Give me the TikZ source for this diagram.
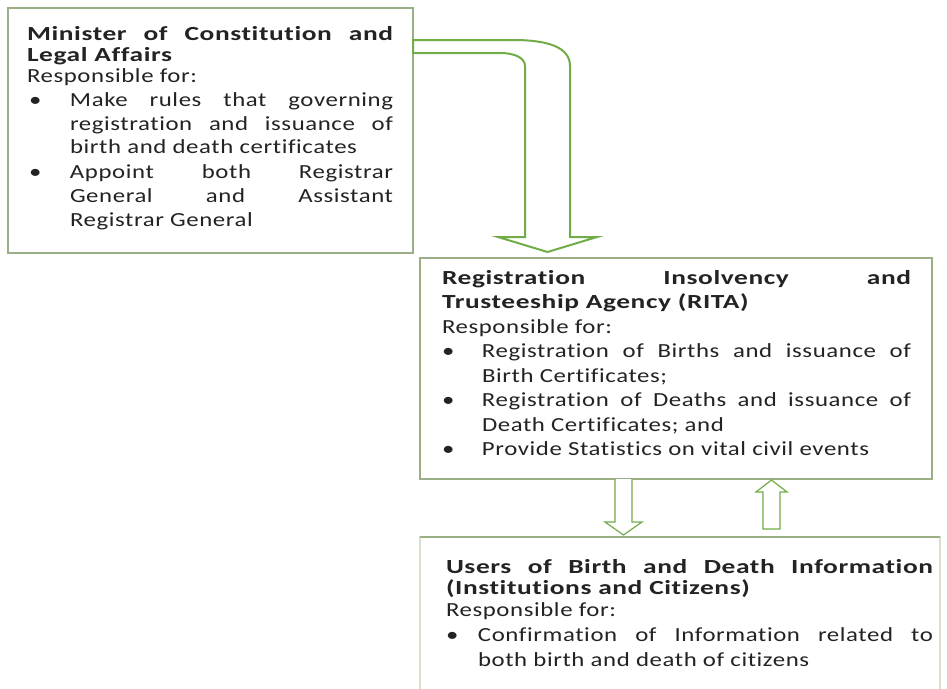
\documentclass[tikz,border=0pt]{standalone}
\usepackage{fontspec}
\setmainfont{Carlito}[FakeStretch=1.24, LetterSpace=3, Ligatures=NoCommon, BoldFeatures={FakeStretch=1.37}]
\definecolor{boxline}{RGB}{155,175,135}
\definecolor{boxfaint}{RGB}{215,225,205}
\definecolor{arrowgreen}{RGB}{112,173,71}
\definecolor{txtcol}{RGB}{35,35,35}
\newcommand\bulitem[3]{\par\hangindent=#1\hangafter=1\noindent\makebox[#1][l]{\hspace{#2}\textbullet}#3}
\tikzset{
  box/.style={draw=boxline, line width=1.1pt, fill=white, anchor=north west, inner sep=0pt, outer sep=0pt},
  txt/.style={anchor=base west, inner sep=0pt, outer sep=0pt, align=justify, text=txtcol,
    execute at begin node={\hyphenpenalty=10000\exhyphenpenalty=10000\tolerance=10000\parindent=0pt}},
  blockarrow/.style={draw=arrowgreen, line width=1.5pt, fill=white, line join=miter},
  smallarrow/.style={draw=arrowgreen, line width=0.9pt, fill=white, line join=miter}
}
\begin{document}
\begin{tikzpicture}[x=0.75pt, y=-0.75pt]
\useasboundingbox (0,0) rectangle (947,689);
\clip (0,0) rectangle (947,689);
% boxes
\node[box, minimum width={405*0.75pt}, minimum height={245*0.75pt}] (b1) at (8,8) {};
\node[box, minimum width={512*0.75pt}, minimum height={221*0.75pt}] (b2) at (420,258) {};
\node[box, draw=boxfaint, minimum width={520*0.75pt}, minimum height={200*0.75pt}] (b3) at (420,537) {};
\draw[boxline, line width=1.1pt] (b3.north west) -- (b3.north east);
% texts
\node[txt, text width={366*0.75pt}] (t1) at (27,40) {%
\fontsize{15}{15.75}\selectfont\bfseries Minister of Constitution and\linebreak Legal Affairs\par
\mdseries Responsible for:\par
\fontsize{15}{18}\selectfont
\bulitem{32.25pt}{1.5pt}{Make rules that governing\linebreak registration and issuance of\linebreak birth and death certificates}
\bulitem{32.25pt}{1.5pt}{Appoint both Registrar\linebreak General and Assistant\linebreak Registrar General}\par};
\node[txt, text width={469*0.75pt}] (t2) at (442,284) {%
\fontsize{15}{18.4}\selectfont\bfseries Registration Insolvency and\linebreak Trusteeship Agency (RITA)\par
\mdseries Responsible for:\par
\bulitem{30pt}{0pt}{Registration of Births and issuance of\linebreak Birth Certificates;}
\bulitem{30pt}{0pt}{Registration of Deaths and issuance of\linebreak Death Certificates; and}
\bulitem{30pt}{0pt}{Provide Statistics on vital civil events}\par};
\node[txt, text width={487*0.75pt}] (t3) at (446,573) {%
\fontsize{15}{15.75}\selectfont\bfseries Users of Birth and Death Information\linebreak (Institutions and Citizens)\par
\fontsize{15}{16.5}\selectfont\mdseries Responsible for:\par
\fontsize{15}{19}\selectfont
\bulitem{24pt}{0pt}{Confirmation of Information related to\linebreak both birth and death of citizens}\par};
% bent block arrow from b1 to b2
\draw[blockarrow] (413,40) -- (513,40) .. controls (550,40) and (570,48) .. (570,66)
  -- (570,237) -- (597,237) -- (547.5,252) -- (498,237) -- (525,237) -- (525,66)
  .. controls (525,58) and (515,53) .. (500,53) -- (413,53) -- cycle;
% small arrows between b2 and b3
\draw[smallarrow] (615,479) -- (615,522) -- (605,522) -- (623.5,535) -- (642,522) -- (632,522) -- (632,479);
\draw[smallarrow] (763,492) -- (763,529) -- (780,529) -- (780,492) -- (787,492) -- (771.5,480) -- (756,492) -- cycle;
\end{tikzpicture}
\end{document}
